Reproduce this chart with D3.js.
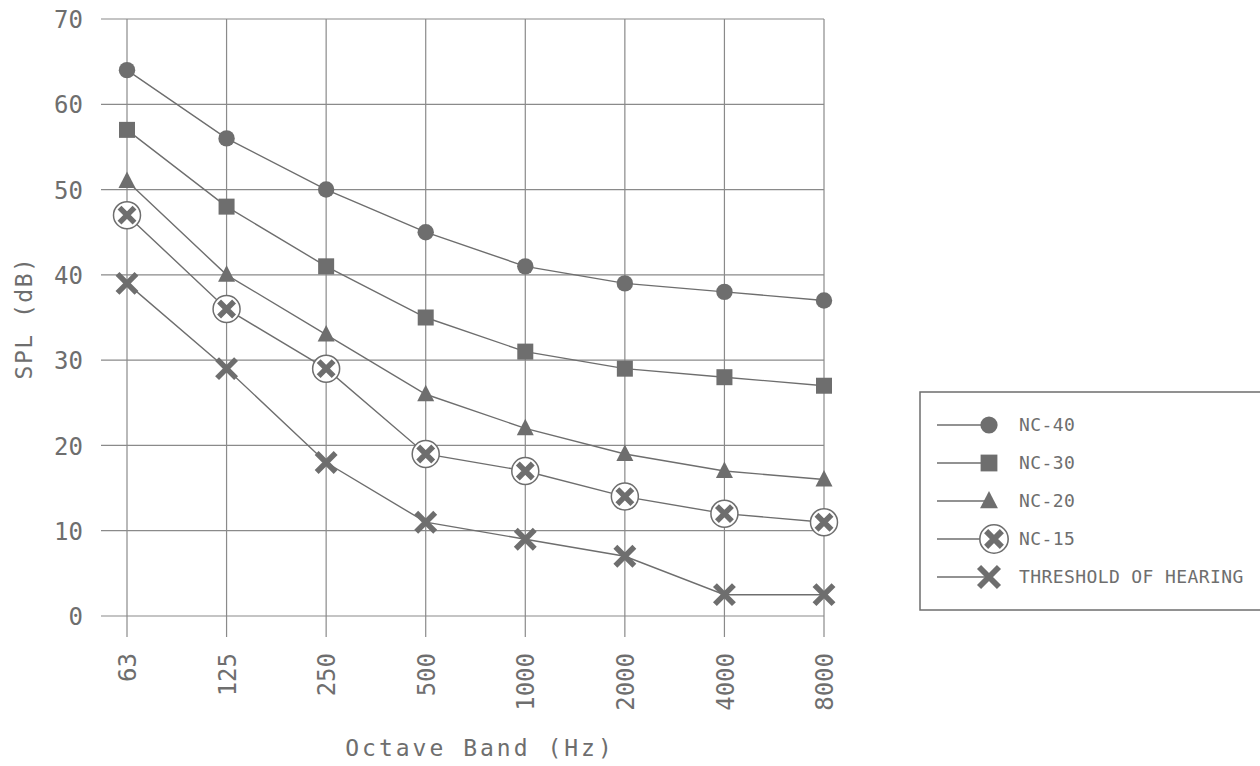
<!DOCTYPE html>
<html>
<head>
<meta charset="utf-8">
<script src="https://cdn.jsdelivr.net/npm/d3@7"></script>
<style>
  html, body { margin: 0; padding: 0; background: #fff; }
  svg { display: block; }
  text { font-family: "DejaVu Sans Mono", "Liberation Mono", monospace; fill: #6e6e6e; }
</style>
</head>
<body>
<svg id="chart" width="1260" height="766"></svg>
<script>
// Octave bands and noise criteria (NC) curves, sound pressure level in dB
const bands = ["63", "125", "250", "500", "1000", "2000", "4000", "8000"];
const yTicks = [0, 10, 20, 30, 40, 50, 60, 70];
const nc40 = [64, 56, 50, 45, 41, 39, 38, 37];
const nc30 = [57, 48, 41, 35, 31, 29, 28, 27];
const nc20 = [51, 40, 33, 26, 22, 19, 17, 16];
const nc15 = [47, 36, 29, 19, 17, 14, 12, 11];
const threshold = [39, 29, 18, 11, 9, 7, 2.5, 2.5];
const seriesNames = ["NC-40", "NC-30", "NC-20", "NC-15", "THRESHOLD OF HEARING"];
const seriesValues = [nc40, nc30, nc20, nc15, threshold];
const seriesMarkers = ["circle", "square", "triangle", "circlecross", "cross"];

const ink = "#6e6e6e";
const gridInk = "#8a8a8a";

const svg = d3.select("#chart");

const x = d3.scalePoint().domain(bands).range([127, 824]);
const y = d3.scaleLinear().domain([0, 70]).range([616, 19]);
const gridLeft = 101;

// grid: horizontal lines at each y tick, vertical lines at each band
const grid = svg.append("g");
grid.selectAll("line.h").data(yTicks).join("line")
  .attr("x1", gridLeft).attr("x2", x("8000"))
  .attr("y1", d => y(d)).attr("y2", d => y(d))
  .attr("stroke", gridInk).attr("stroke-width", 1.2);
grid.selectAll("line.v").data(bands).join("line")
  .attr("x1", d => x(d)).attr("x2", d => x(d))
  .attr("y1", y(70)).attr("y2", y(0) + 21)
  .attr("stroke", gridInk).attr("stroke-width", 1.2);

// y axis labels
const yAxis = d3.axisLeft(y).tickValues(yTicks).tickSize(0).tickPadding(0);
const gy = svg.append("g").attr("transform", `translate(83,0)`).call(yAxis);
gy.select(".domain").remove();
gy.selectAll("text").attr("font-size", 24).attr("fill", ink)
  .style("font-family", "'DejaVu Sans Mono', monospace").attr("dy", "0.36em");

// x axis labels, rotated to read upward
const xAxis = d3.axisBottom(x).tickSize(0).tickPadding(0);
const gx = svg.append("g").attr("transform", `translate(0,653)`).call(xAxis);
gx.select(".domain").remove();
gx.selectAll("text")
  .attr("font-size", 24).attr("fill", ink)
  .style("font-family", "'DejaVu Sans Mono', monospace")
  .attr("text-anchor", "end")
  .attr("transform", "rotate(-90)")
  .attr("x", 0).attr("y", 0).attr("dy", "0.36em");

// axis titles
svg.append("text").attr("x", 480).attr("y", 756)
  .attr("text-anchor", "middle").attr("font-size", 23)
  .attr("letter-spacing", 3).text("Octave Band (Hz)");
svg.append("text").attr("transform", "translate(32,318) rotate(-90)")
  .attr("text-anchor", "middle").attr("font-size", 23)
  .attr("letter-spacing", 1.5).text("SPL (dB)");

// marker drawing
function drawMarker(g, type) {
  if (type === "circle") {
    g.append("circle").attr("r", 8.2).attr("fill", ink);
  } else if (type === "square") {
    g.append("rect").attr("x", -8).attr("y", -8).attr("width", 16).attr("height", 16).attr("fill", ink);
  } else if (type === "triangle") {
    g.append("path").attr("d", "M0,-9.5 L8.5,7 L-8.5,7 Z").attr("fill", ink);
  } else if (type === "circlecross") {
    g.append("circle").attr("r", 13.5).attr("fill", "#fff").attr("stroke", ink).attr("stroke-width", 1.5);
    g.append("path").attr("d", "M-7.5,-7.5 L7.5,7.5 M7.5,-7.5 L-7.5,7.5")
      .attr("stroke", ink).attr("stroke-width", 5.5).attr("stroke-linecap", "butt");
  } else if (type === "cross") {
    g.append("path").attr("d", "M-9.5,-9.5 L9.5,9.5 M9.5,-9.5 L-9.5,9.5")
      .attr("stroke", ink).attr("stroke-width", 5.5).attr("stroke-linecap", "butt");
  }
}

const line = d3.line().x((d, i) => x(bands[i])).y(d => y(d));

seriesValues.forEach(vals => {
  svg.append("path").datum(vals)
    .attr("d", line).attr("fill", "none")
    .attr("stroke", ink).attr("stroke-width", 1.4);
});
seriesValues.forEach((vals, si) => {
  const g = svg.append("g");
  g.selectAll("g").data(vals).join("g")
    .attr("transform", (d, i) => `translate(${x(bands[i])},${y(d)})`)
    .each(function () { drawMarker(d3.select(this), seriesMarkers[si]); });
});

// legend
const legend = svg.append("g");
legend.append("rect").attr("x", 920).attr("y", 392).attr("width", 360).attr("height", 218)
  .attr("fill", "none").attr("stroke", ink).attr("stroke-width", 1.5);
const legendY = d3.scalePoint().domain(seriesNames).range([425, 577]);
seriesNames.forEach((name, i) => {
  const cy = legendY(name);
  const mx = i === 3 ? 994 : 989;
  legend.append("line").attr("x1", 937).attr("x2", mx).attr("y1", cy).attr("y2", cy)
    .attr("stroke", ink).attr("stroke-width", 1.4);
  const mg = legend.append("g").attr("transform", `translate(${mx},${cy}) scale(1.05)`);
  drawMarker(mg, seriesMarkers[i]);
  legend.append("text").attr("x", 1019).attr("y", cy).attr("dy", "0.36em")
    .attr("font-size", 18).attr("letter-spacing", 0.4).text(name);
});
</script>
</body>
</html>
